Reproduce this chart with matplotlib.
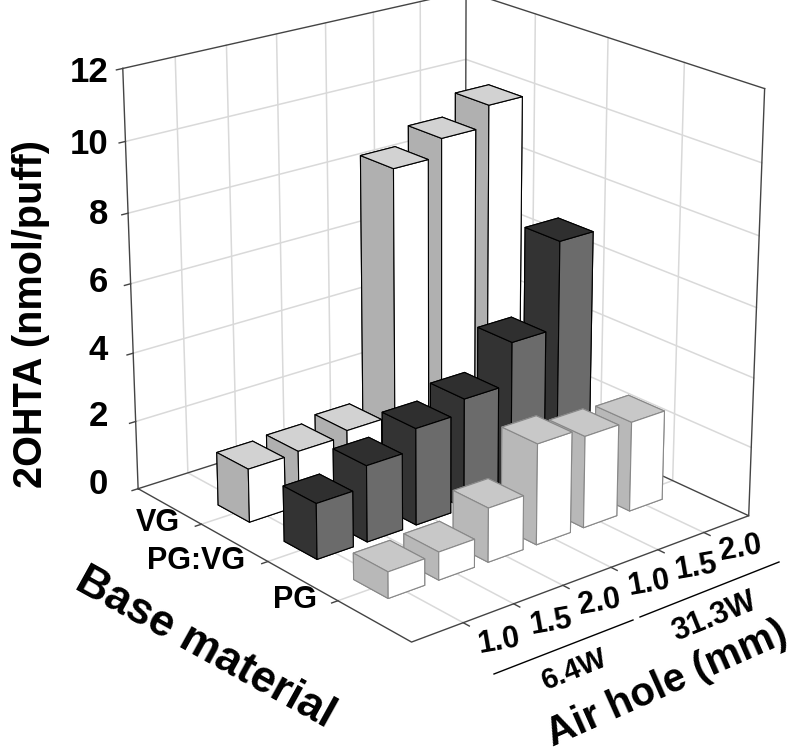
import matplotlib
matplotlib.use('Agg')
import matplotlib.pyplot as plt
from matplotlib.lines import Line2D

plt.rcParams['font.family'] = ['Liberation Sans', 'DejaVu Sans']
plt.rcParams['font.weight'] = 'bold'

W, H = 800, 753

air_holes = ['1.0', '1.5', '2.0', '1.0', '1.5', '2.0']
bases = ['PG', 'PG:VG', 'VG']
z_ticks = [0, 2, 4, 6, 8, 10, 12]

# 2OHTA per air hole, 6.4W then 31.3W
pg = [0.75, 0.8, 1.55, 2.9, 2.65, 2.6]
pg_vg = [1.6, 2.2, 2.8, 3.2, 4.4, 6.9]
vg = [1.55, 1.6, 1.75, 8.9, 9.4, 10.0]

# bottom, top, -y, +y, -x, +x
pg_faces = ['#c0c0c0', '#c8c8c8', '#ffffff', '#ffffff', '#b8b8b8', '#b8b8b8']
pg_vg_faces = ['#333333', '#2f2f2f', '#6b6b6b', '#6b6b6b', '#333333', '#333333']
vg_faces = ['#b0b0b0', '#d2d2d2', '#ffffff', '#ffffff', '#b0b0b0', '#b0b0b0']

fig = plt.figure(figsize=(W / 100, H / 100), dpi=100)
ax = fig.add_axes([0.038, 0.094, 1.0, 1.0], projection='3d')
ax.computed_zorder = False
ax.set_proj_type('persp', focal_length=0.8)
ax.view_init(elev=21, azim=-129.5)
ax.set_xlim(0, 7)
ax.set_ylim(0, 4)
ax.set_zlim(0, 12)
ax.set_box_aspect((1.03, 1.05, 1.06), zoom=1.0)
ax.set_axis_off()

grid = '#d9d9d9'
dark = '#444444'
for x in range(1, 7):
    ax.plot([x, x, x], [0, 4, 4], [0, 0, 12], color=grid, lw=1.1, zorder=1)
for y in range(1, 4):
    ax.plot([0, 7, 7], [y, y, y], [0, 0, 12], color=grid, lw=1.1, zorder=1)
for z in z_ticks[1:-1]:
    ax.plot([0, 7, 7], [4, 4, 0], [z, z, z], color=grid, lw=1.1, zorder=1)

# box outline
ax.plot([0, 0, 7, 7, 0], [4, 0, 0, 4, 4], [0, 0, 0, 0, 0], color=dark, lw=1, zorder=1.5)
ax.plot([0, 7, 7], [4, 4, 0], [12, 12, 12], color=dark, lw=1, zorder=1.5)
ax.plot([0, 0], [4, 4], [0, 12], color=dark, lw=1, zorder=1.5)
ax.plot([7, 7], [4, 4], [0, 12], color=dark, lw=1, zorder=1.5)
ax.plot([7, 7], [0, 0], [0, 12], color=dark, lw=1, zorder=1.5)

# tick marks
for x in range(1, 7):
    ax.plot([x, x], [0, -0.08], [0, 0], color=dark, lw=1, zorder=1.5)
for y in range(1, 4):
    ax.plot([0, -0.12], [y, y], [0, 0], color=dark, lw=1, zorder=1.5)
for z in z_ticks:
    ax.plot([0, -0.12], [4, 4], [z, z], color=dark, lw=1, zorder=1.5)

# bars drawn back to front
dx, dy = 0.72, 0.48
rows = [(3, vg, vg_faces, 'black'), (2, pg_vg, pg_vg_faces, 'black'), (1, pg, pg_faces, '#888888')]
order = 2
for y, vals, faces, edge in rows:
    for i in range(5, -1, -1):
        ax.bar3d(i + 1 - dx / 2, y - dy / 2, 0, dx, dy, vals[i], color=faces,
                 edgecolor=edge, linewidth=0.8, shade=False, zorder=order)
        order += 1

# tick labels
z_label_y = [485, 417, 350, 283, 215, 145, 72]
for z, py in zip(z_ticks, z_label_y):
    fig.text(108 / W, 1 - py / H, str(z), ha='right', va='center', fontsize=25)

base_pos = [(295, 600), (196, 561), (158, 523)]
for b, (px, py) in zip(bases, base_pos):
    fig.text(px / W, 1 - py / H, b, ha='center', va='center', fontsize=22)

hole_pos = [(499, 641), (551, 622), (600, 602), (649, 583), (696, 567), (741, 548)]
for a, (px, py) in zip(air_holes, hole_pos):
    fig.text(px / W, 1 - py / H, a, ha='center', va='center', fontsize=22, rotation=10)

fig.text(575 / W, 1 - 670 / H, '6.4W', ha='center', va='center', fontsize=21, rotation=22)
fig.text(714 / W, 1 - 617 / H, '31.3W', ha='center', va='center', fontsize=22, rotation=22)
fig.add_artist(Line2D([494 / W, 633 / W], [1 - 674 / H, 1 - 620 / H], color='black', lw=1))
fig.add_artist(Line2D([640 / W, 779 / W], [1 - 617 / H, 1 - 562 / H], color='black', lw=1))

fig.text(31 / W, 1 - 314 / H, '2OHTA (nmol/puff)', ha='center', va='center', fontsize=28.5, rotation=90)
fig.text(205 / W, 1 - 648 / H, 'Base material', ha='center', va='center', fontsize=32, rotation=-29)
fig.text(667 / W, 1 - 684 / H, 'Air hole (mm)', ha='center', va='center', fontsize=29, rotation=24)

fig.savefig('out.png', dpi=100)
